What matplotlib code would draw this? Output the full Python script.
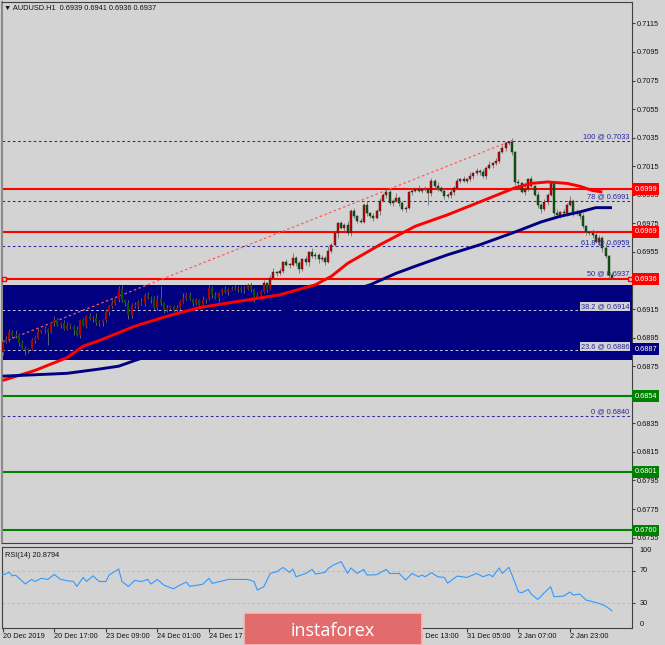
import matplotlib
matplotlib.use("Agg")
import matplotlib.pyplot as plt
import matplotlib.transforms as mtransforms
from matplotlib.patches import Rectangle
import numpy as np

plt.rcParams['font.family'] = ['Liberation Sans', 'DejaVu Sans']

# ---- data (prices in pips, 1 pip = 0.0001) ----
symbol = "AUDUSD.H1"
first_open = 6885
close_pips = [
    6892, 6894, 6899, 6896, 6897, 6891, 6888, 6886, 6887, 6893,
    6895, 6899, 6900, 6901, 6899, 6905, 6907, 6904, 6905, 6901,
    6904, 6903, 6900, 6897, 6907, 6904, 6910, 6908, 6909, 6905,
    6906, 6907, 6913, 6917, 6919, 6922, 6929, 6921, 6919, 6911,
    6918, 6917, 6920, 6919, 6925, 6923, 6922, 6916, 6922, 6919,
    6914, 6916, 6917, 6914, 6916, 6920, 6923, 6925, 6922, 6919,
    6921, 6918, 6921, 6922, 6930, 6925, 6923, 6926, 6929, 6927,
    6929, 6930, 6929, 6930, 6928, 6929, 6932, 6929, 6923, 6925,
    6927, 6933, 6929, 6937, 6941, 6940, 6942, 6948, 6946, 6946,
    6951, 6947, 6943, 6950, 6948, 6955, 6952, 6953, 6950, 6951,
    6948, 6956, 6960, 6968, 6975, 6972, 6974, 6968, 6984, 6980,
    6977, 6976, 6988, 6982, 6980, 6979, 6984, 6991, 6995, 6997,
    6989, 6991, 6993, 6989, 6985, 6986, 6997, 6998, 6999, 6998,
    6999, 6999, 6996, 7005, 7001, 7000, 6998, 6994, 6995, 6997,
    7000, 7005, 7006, 7005, 7006, 7008, 7010, 7012, 7011, 7008,
    7014, 7016, 7017, 7019, 7025, 7028, 7031, 7032, 7025, 7004,
    7003, 6997, 6999, 7006, 7001, 6995, 6988, 6985, 6990, 6995,
    7003, 6982, 6981, 6983, 6982, 6988, 6991, 6982, 6983, 6980,
    6973, 6969, 6968, 6967, 6962, 6965, 6958, 6952, 6939, 6937,
]
upper_wick = [
    1, 2, 2, 1, 3, 1, 2, 1, 1, 2,
    1, 3, 1, 2, 1, 1, 3, 2, 1, 2,
    2, 1, 1, 3, 1, 2, 1, 2, 1, 3,
    1, 1, 2, 1, 2, 1, 2, 3, 1, 2,
    1, 2, 1, 3, 1, 2, 1, 2, 3, 9,
    1, 2, 1, 1, 2, 1, 3, 1, 2, 1,
    2, 1, 3, 1, 2, 1, 2, 1, 1, 2,
    1, 1, 2, 1, 1, 2, 1, 2, 1, 2,
    1, 2, 1, 2, 3, 1, 2, 1, 2, 1,
    3, 1, 2, 1, 2, 1, 3, 2, 1, 2,
    1, 3, 1, 2, 1, 2, 1, 3, 1, 2,
    1, 2, 1, 3, 1, 2, 1, 2, 1, 3,
    2, 1, 3, 1, 2, 1, 1, 2, 1, 3,
    1, 2, 1, 2, 1, 3, 1, 2, 1, 2,
    1, 2, 1, 2, 1, 3, 1, 2, 1, 2,
    1, 3, 1, 2, 1, 2, 1, 1, 3, 1,
    2, 1, 3, 1, 2, 1, 3, 1, 2, 1,
    2, 1, 3, 1, 2, 1, 3, 1, 2, 1,
    2, 1, 1, 3, 1, 2, 1, 3, 1, 2,
]
lower_wick = [
    2, 1, 2, 1, 1, 2, 1, 3, 2, 1,
    2, 1, 1, 2, 9, 1, 2, 1, 2, 1,
    1, 2, 3, 1, 2, 1, 2, 1, 2, 1,
    2, 3, 1, 2, 1, 1, 2, 1, 2, 3,
    2, 1, 2, 1, 2, 1, 3, 1, 2, 1,
    2, 1, 2, 1, 1, 2, 1, 2, 1, 2,
    1, 2, 1, 2, 1, 2, 1, 3, 1, 1,
    2, 1, 1, 2, 1, 2, 1, 2, 3, 1,
    2, 1, 2, 1, 1, 2, 1, 2, 1, 2,
    1, 2, 3, 1, 2, 3, 1, 2, 3, 1,
    2, 1, 2, 1, 3, 1, 2, 1, 2, 1,
    2, 1, 1, 2, 1, 2, 1, 3, 1, 2,
    1, 2, 1, 2, 1, 2, 1, 2, 1, 1,
    2, 1, 8, 2, 1, 2, 1, 2, 1, 2,
    2, 1, 2, 1, 2, 1, 2, 1, 2, 1,
    2, 1, 2, 1, 2, 1, 2, 1, 2, 2,
    3, 1, 2, 1, 2, 1, 2, 3, 1, 2,
    1, 2, 1, 2, 1, 2, 1, 2, 1, 2,
    1, 2, 1, 2, 1, 2, 3, 1, 2, 1,
]

# moving averages, sampled by bar
red_ma_bar = [0, 10, 20, 25, 30, 41, 51, 61, 72, 86, 97, 102, 107, 117, 128, 138, 148, 159, 164, 169, 175, 179, 183, 186]
red_ma = [6865, 6872, 6881, 6889, 6893, 6903, 6910, 6916, 6920, 6925, 6932, 6938, 6947, 6960, 6973, 6981,
          6990, 7000, 7003, 7004, 7003, 7001, 6998, 6997]
blue_ma_bar = [0, 10, 20, 30, 36, 41, 60, 80, 100, 114, 122, 128, 138, 148, 159, 167, 173, 179, 184, 189]
blue_ma = [6868, 6869, 6870, 6873, 6875, 6879, 6893, 6908, 6922, 6932, 6940, 6945, 6953, 6960, 6969, 6976,
           6980, 6983, 6986, 6986]

# RSI(14)
rsi_bar = [0, 2, 3, 4, 7, 9, 10, 12, 14, 16, 18, 20, 22, 23, 25, 26, 28, 30, 32, 33, 36, 37, 39, 41, 43,
           45, 46, 48, 50, 53, 55, 57, 58, 62, 64, 65, 68, 70, 76, 78, 79, 81, 83, 85, 87, 89, 90, 91, 94,
           96, 97, 100, 101, 103, 105, 107, 108, 110, 112, 113, 116, 119, 120, 123, 125, 127, 129, 130, 131,
           133, 135, 137, 138, 141, 144, 145, 147, 149, 151, 152, 154, 155, 157, 158, 160, 161, 163, 164,
           166, 168, 170, 171, 174, 176, 177, 179, 181, 183, 185, 187, 189]
rsi_val = [65, 68.3, 64, 65, 54, 59.6, 57, 61, 59.6, 65.8, 59.6, 58, 57.1, 51, 62.1, 57, 64, 57, 57, 64.9,
           72.5, 57.1, 51, 58.4, 57, 59.6, 53.9, 59.6, 52.6, 48, 52.6, 56.4, 51, 53.5, 61, 54.7, 57.6, 59.6,
           59.6, 57, 46.4, 50.6, 67, 69.1, 74.4, 68.3, 72.5, 62.9, 67, 72, 66.2, 68.3, 73.3, 78.2, 81.5,
           67, 73.8, 67, 72, 65, 65.4, 72, 67, 67, 58.9, 67, 62.9, 65, 62.9, 67.9, 62.9, 62.1, 55, 63.7,
           62.1, 63.7, 67, 62.9, 65.8, 62.9, 73.8, 67, 74.6, 65, 44.3, 43.1, 47.2, 41.4, 34.9, 43.1, 50.6,
           38.2, 39, 44.1, 40.3, 41.5, 34.1, 32.1, 30, 26.8, 20.9]
rsi_last = 20.8794

resistance = [0.6999, 0.6969, 0.6936]
support = [0.6854, 0.6801, 0.6760]
fib_names = ["100", "78", "61.8", "50", "38.2", "23.6", "0"]
fib_levels = [0.7033, 0.6991, 0.6959, 0.6937, 0.6914, 0.6886, 0.6840]
fib_anchor_bar = [-58, 158]
fib_anchor_price = [0.6840, 0.7033]
zone = [0.6879, 0.6932]
zone_label = 0.6887

price_ticks = list(range(6755, 7116, 20))
# tick labels hidden behind the level boxes in the reference
hidden_ticks = [6855, 6935]

time_tick_bars = list(range(0, 177, 16))
# labels 5-7 sit under the watermark banner
time_labels = ["20 Dec 2019", "20 Dec 17:00", "23 Dec 09:00", "24 Dec 01:00", "24 Dec 17:00",
               "", "", "", "30 Dec 13:00", "31 Dec 05:00", "2 Jan 07:00", "2 Jan 23:00"]

# ---- derived candle arrays ----
closes = np.array(close_pips) / 10000
opens = np.array([first_open] + close_pips[:-1]) / 10000
highs = np.maximum(opens, closes) + np.array(upper_wick) / 10000
lows = np.minimum(opens, closes) - np.array(lower_wick) / 10000
bars = np.arange(len(closes))
bull = closes >= opens

BG = "#d3d3d3"
FS = 5.3
fig = plt.figure(figsize=(6.65, 6.45), dpi=100, facecolor=BG)
W, H = 665, 645
ax = fig.add_axes([2 / W, 102 / H, 630 / W, 541 / H], facecolor=BG)
ax_rsi = fig.add_axes([2 / W, 17.3 / H, 630 / W, 81 / H], facecolor=BG)

xlim = (-0.2, -0.2 + 630 / 3.224)
ax.set_xlim(*xlim)
ax.set_ylim(0.67512, 0.71300)

# zone
ax.axhspan(zone[0], zone[1], color="#000080", zorder=0.5, lw=0)

# fibonacci levels
for name, lvl in zip(fib_names, fib_levels):
    inside = zone[0] < lvl < zone[1]
    col = "#c4c4e4" if inside else "#2a2aa0"
    ax.axhline(lvl, color=col, lw=0.75, ls=(0, (2.5, 2.5)), zorder=1)
    txt = ax.text(0.996, lvl + 0.00003, f"{name} @ {lvl:.4f}",
                  transform=mtransforms.blended_transform_factory(ax.transAxes, ax.transData),
                  ha="right", va="bottom", fontsize=FS, color="#27279b", zorder=6)
    if inside:
        txt.set_bbox(dict(boxstyle="square,pad=0.1", fc=BG, ec="none"))

ax.plot(fib_anchor_bar, fib_anchor_price, color="#ff5a5a", lw=0.9, ls=(0, (2, 2)), zorder=2.5)

# horizontal levels
for lvl in resistance:
    ax.axhline(lvl, color="#ff0000", lw=1.5, zorder=2)
for lvl in support:
    ax.axhline(lvl, color="#008000", lw=1.5, zorder=2)
ax.plot([xlim[0] + 0.5, xlim[1] - 0.5], [resistance[-1]] * 2, ls="none", marker="s", ms=2.8,
        mfc=BG, mec="#ff0000", mew=1, zorder=6, clip_on=False)

# candles
ax.vlines(bars, lows, highs, color="#707070", lw=0.6, zorder=3)
body = np.maximum(np.abs(closes - opens), 0.00004)
ax.bar(bars, body, bottom=np.minimum(opens, closes), width=0.62,
       color=np.where(bull, "#d40000", "#0b5e0b"), edgecolor="#1c1c1c", linewidth=0.3, zorder=3.5)

# moving averages
ax.plot(red_ma_bar, np.array(red_ma) / 10000, color="#ff0000", lw=2.1, zorder=4, solid_capstyle="butt")
ax.plot(blue_ma_bar, np.array(blue_ma) / 10000, color="#000080", lw=2.1, zorder=4, solid_capstyle="butt")

# price axis
ax.yaxis.tick_right()
ax.set_yticks([p / 10000 for p in price_ticks])
ax.set_yticklabels(["" if p in hidden_ticks else f"{p / 10000:.4f}" for p in price_ticks])
ax.tick_params(axis="y", labelsize=FS, length=2, pad=1.5, color="#404040", labelcolor="#111111")
ax.set_xticks([])
for s in ax.spines.values():
    s.set_color("#404040")
    s.set_linewidth(0.8)
ax.spines["left"].set_color("#8a8a8a")
ax.spines["left"].set_linewidth(1.5)

blend = mtransforms.blended_transform_factory(ax.transAxes, ax.transData)
def price_box(lvl, face):
    ax.text(1.004, lvl, f"{lvl:.4f}", transform=blend, ha="left", va="center", fontsize=FS,
            color="white", zorder=7, clip_on=False,
            bbox=dict(boxstyle="square,pad=0.3", fc=face, ec="none"))
for lvl in resistance:
    price_box(lvl, "#ff0000")
for lvl in support:
    price_box(lvl, "#008000")
price_box(zone_label, "#000080")

fig.text(4 / W, 1 - 8 / H, "\u25bc " + symbol + "  " + " ".join(f"{v:.4f}" for v in
         (opens[-1], highs[-1], lows[-1], closes[-1])), fontsize=FS, va="center", ha="left",
         color="#111111")

# RSI pane
ax_rsi.set_xlim(*xlim)
ax_rsi.set_ylim(0, 100)
for lvl in (70, 30):
    ax_rsi.axhline(lvl, color="#b4b4b4", lw=0.6, ls=(0, (3, 3)), zorder=1)
ax_rsi.plot(rsi_bar, rsi_val, color="#3399ff", lw=0.8, zorder=3)
ax_rsi.text(0.005, 0.93, f"RSI(14) {rsi_last:.4f}", transform=ax_rsi.transAxes, va="top", ha="left",
            fontsize=FS, color="#111111")
ax_rsi.yaxis.tick_right()
ax_rsi.set_yticks([30, 70])
ax_rsi.set_yticklabels([])
rblend = mtransforms.blended_transform_factory(ax_rsi.transAxes, ax_rsi.transData)
for v in (100, 70, 30, 0):
    va = "top" if v == 100 else ("bottom" if v == 0 else "center")
    ax_rsi.text(1.012, v, str(v), transform=rblend, ha="left", va=va, fontsize=FS, color="#111111",
                clip_on=False)
ax_rsi.set_xticks(time_tick_bars)
ax_rsi.set_xticklabels(time_labels, ha="left")
ax_rsi.tick_params(axis="x", labelsize=FS, length=3, pad=1, color="#404040", labelcolor="#111111")
ax_rsi.tick_params(axis="y", length=2, color="#404040")
for s in ax_rsi.spines.values():
    s.set_color("#404040")
    s.set_linewidth(0.8)

# watermark banner
fig.add_artist(Rectangle((244 / W, 0), 178 / W, 32 / H, transform=fig.transFigure,
                         fc="#e26c6c", ec="#f4bcbc", lw=1.2, zorder=10))
fig.text(333 / W, (H - 636.5) / H, "instaforex", ha="center", va="baseline", fontsize=13,
         color="white", family=["Open Sans", "DejaVu Sans"], zorder=11)

fig.savefig("out.png", dpi=100, facecolor=BG)
